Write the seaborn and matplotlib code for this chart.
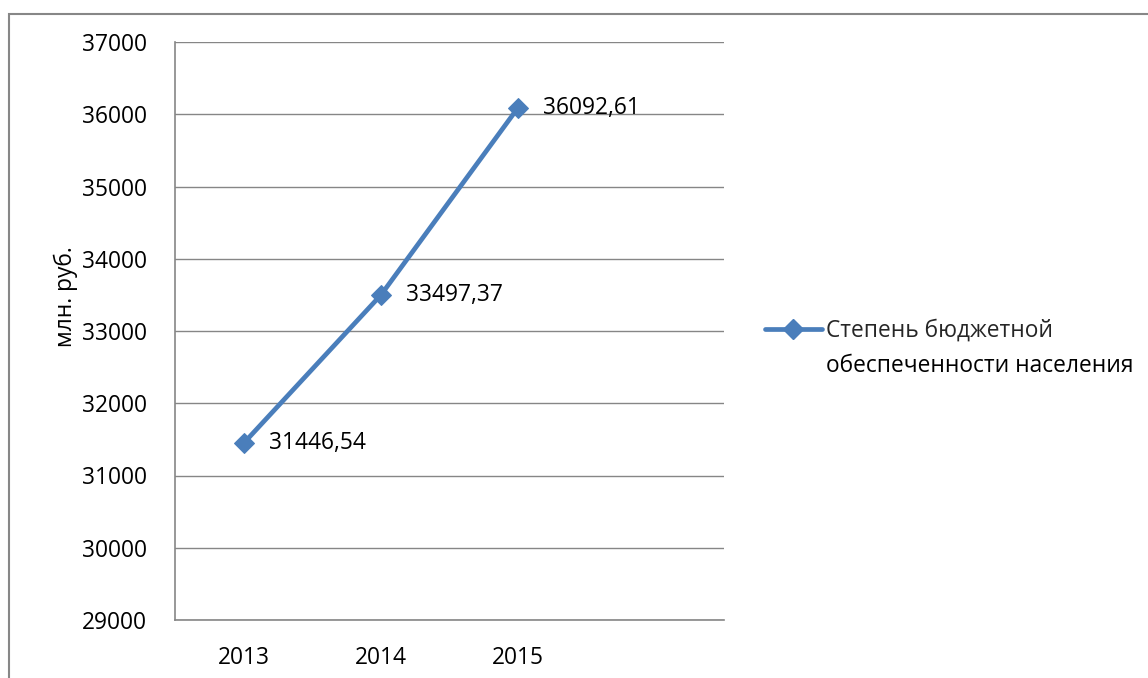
import matplotlib
matplotlib.use("Agg")
import matplotlib.pyplot as plt
from matplotlib.patches import Rectangle
from matplotlib.lines import Line2D
import seaborn as sns
import pandas as pd

years = ["2013", "2014", "2015"]
values = [31446.54, 33497.37, 36092.61]
value_labels = ["31446,54", "33497,37", "36092,61"]
series_name = "Степень бюджетной обеспеченности населения"
y_label = "млн. руб."
y_ticks = list(range(29000, 37001, 1000))

sns.set_theme(style="white")
plt.rcParams["font.family"] = ["Open Sans", "DejaVu Sans"]

FS = 16.4
LINE_COLOR = "#4A7EBB"
GRID_COLOR = "#868686"

df = pd.DataFrame({"year": years, "value": values})

fig = plt.figure(figsize=(11.48, 6.78), dpi=100)
fig.patch.set_facecolor("white")
ax = fig.add_axes([175 / 1148, 1 - 620 / 678, (724 - 175) / 1148, (620 - 42) / 678])

sns.lineplot(data=df, x="year", y="value", ax=ax, color=LINE_COLOR, linewidth=3.4,
             marker="D", markersize=10, markeredgecolor=LINE_COLOR, sort=False)

ax.set_xlim(-0.5, 3.5)
ax.set_ylim(29000, 37000)
ax.set_yticks(y_ticks)
ax.set_yticklabels([str(t) for t in y_ticks])
ax.set_xticks(range(len(years)))
ax.set_xticklabels(years)
ax.tick_params(axis="both", length=0, labelsize=FS, labelcolor="black")
ax.tick_params(axis="y", pad=20)
ax.tick_params(axis="x", pad=19)
ax.set_xlabel("")
ax.set_ylabel(y_label, fontsize=FS, color="black")
ax.yaxis.set_label_coords(-0.177, 0.56)

ax.grid(axis="y", color=GRID_COLOR, linewidth=1)
ax.grid(axis="x", visible=False)
ax.set_axisbelow(True)
for side in ["top", "right"]:
    ax.spines[side].set_visible(False)
for side in ["left", "bottom"]:
    ax.spines[side].set_color(GRID_COLOR)
    ax.spines[side].set_linewidth(1.2)

for i, (v, lab) in enumerate(zip(values, value_labels)):
    ax.annotate(lab, xy=(i, v), xytext=(18, 0), textcoords="offset points",
                va="center", ha="left", fontsize=FS, color="black")

# legend: handle on the first line of the wrapped series name
first_line, second_line = "Степень бюджетной", "обеспеченности населения"
handle = Line2D([], [], color=LINE_COLOR, linewidth=3.4, marker="D",
                markersize=10, markeredgecolor=LINE_COLOR)
leg = fig.legend([handle], [first_line], loc="center left",
                 bbox_to_anchor=(765 / 1148, 1 - 331 / 678), frameon=False,
                 fontsize=FS, handlelength=2.5, handletextpad=0.18, borderpad=0,
                 borderaxespad=0)
fig.text(826 / 1148, 1 - 366 / 678, second_line, fontsize=FS, va="center",
         ha="left", color="black")

# chart frame
fig.patches.append(Rectangle((8.5 / 1148, -0.05), 1.2, 1 - 13.5 / 678 + 0.05,
                             transform=fig.transFigure, fill=False,
                             edgecolor="#878787", linewidth=1.5))

fig.savefig("out.png", dpi=100, facecolor="white")
